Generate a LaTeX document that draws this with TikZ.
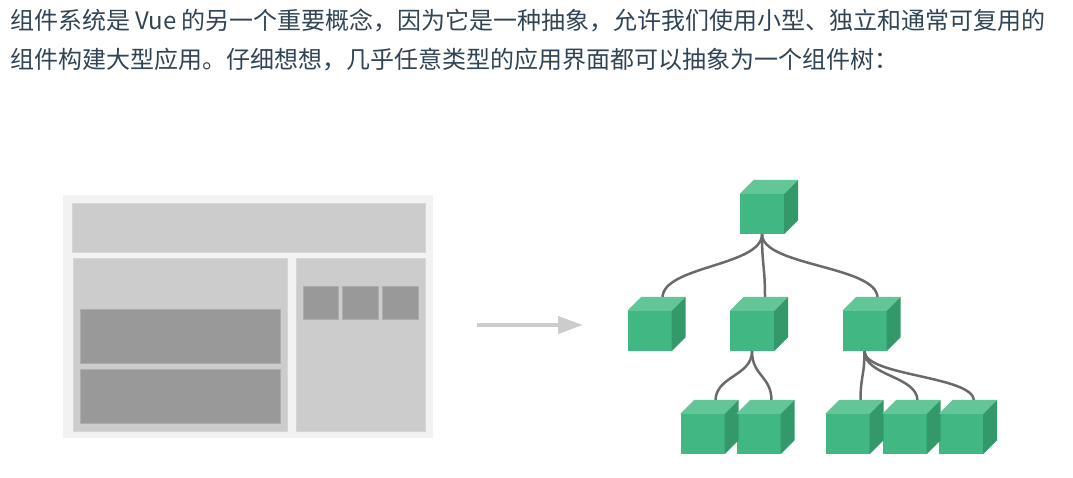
\documentclass[tikz,border=0pt]{standalone}
\usepackage{fontspec}
\newfontfamily\cjk{Noto Sans CJK SC}
\usetikzlibrary{calc,arrows.meta,backgrounds}
\definecolor{textc}{HTML}{304455}
\definecolor{vuegreen}{HTML}{41B883}
\definecolor{cubetopc}{HTML}{62C698}
\definecolor{cubesidec}{HTML}{33996B}
\definecolor{wirelight}{HTML}{F2F2F2}
\definecolor{wiremid}{HTML}{CCCCCC}
\definecolor{wiredark}{HTML}{999999}
\definecolor{linkc}{HTML}{6A6A6A}
\tikzset{
  cube/.style={rectangle,fill=vuegreen,inner sep=0pt,minimum width=44pt,minimum height=40pt},
  link/.style={draw=linkc,line width=2.5pt},
  textline/.style={anchor=base west,inner sep=0pt,text=textc,font=\cjk\fontsize{24}{40}\selectfont},
}

\begin{document}
\begin{tikzpicture}[x=1pt,y=-1pt]
\useasboundingbox (0,0) rectangle (1073,477);
\node[textline] (line1) at (10,29) {组件系统是 Vue 的另一个重要概念，因为它是一种抽象，允许我们使用小型、独立和通常可复用的};
\node[textline] (line2) at (10,68) {组件构建大型应用。仔细想想，几乎任意类型的应用界面都可以抽象为一个组件树：};

\fill[wirelight] (63,195) rectangle (433,438);
\filldraw[fill=wiremid,draw=wiremid!80!white,line width=0.8pt] (72,203) rectangle (425,252);
\filldraw[fill=wiremid,draw=wiremid!80!white,line width=0.8pt] (73,258) rectangle (287,431);
\filldraw[fill=wiremid,draw=wiremid!80!white,line width=0.8pt] (296,258) rectangle (425,431);
\filldraw[fill=wiredark,draw=wiredark!80!white,line width=0.8pt] (80,309) rectangle (280,363);
\filldraw[fill=wiredark,draw=wiredark!80!white,line width=0.8pt] (80,369) rectangle (280,423);
\filldraw[fill=wiredark,draw=wiredark!80!white,line width=0.8pt] (303,286) rectangle (338,319);
\filldraw[fill=wiredark,draw=wiredark!80!white,line width=0.8pt] (342,286) rectangle (378,319);
\filldraw[fill=wiredark,draw=wiredark!80!white,line width=0.8pt] (382,286) rectangle (418,319);

\coordinate (arrowstart) at (477,325);
\coordinate (arrowend) at (583,325);
\draw[wiremid,line width=4pt,-{Triangle[length=25pt,width=17pt]}] (arrowstart) -- (arrowend);

\node[cube] (root) at (762,214) {};
\node[cube] (left) at (649.5,331) {};
\node[cube] (mid) at (752,331) {};
\node[cube] (right) at (864.5,331) {};
\node[cube] (mid1) at (702.5,434) {};
\node[cube] (mid2) at (758.5,434) {};
\node[cube] (right1) at (847.5,434) {};
\node[cube] (right2) at (904.5,434) {};
\node[cube] (right3) at (961,434) {};
\foreach \n in {root,left,mid,right,mid1,mid2,right1,right2,right3}{
  \fill[cubetopc] (\n.north west) -- (\n.north east) -- ++(14,-14) -- ($(\n.north west)+(14,-14)$) -- cycle;
  \fill[cubesidec] (\n.north east) -- (\n.south east) -- ++(14,-14) -- ($(\n.north east)+(14,-14)$) -- cycle;
}

\begin{scope}[on background layer]
\draw[link] (root.south) .. controls +(0,32) and +(0,-32) .. ($(left.north)+(13,-13)$);
\draw[link] (root.south) .. controls +(0,32) and +(0,-32) .. ($(mid.north)+(13,-13)$);
\draw[link] (root.south) .. controls +(0,32) and +(0,-32) .. ($(right.north)+(13,-13)$);
\draw[link] (mid.south) .. controls +(0,25) and +(0,-25) .. ($(mid1.north)+(13,-13)$);
\draw[link] (mid.south) .. controls +(0,25) and +(0,-25) .. ($(mid2.north)+(13,-13)$);
\draw[link] (right.south) .. controls +(0,25) and +(0,-25) .. ($(right1.north)+(13,-13)$);
\draw[link] (right.south) .. controls +(0,25) and +(0,-25) .. ($(right2.north)+(13,-13)$);
\draw[link] (right.south) .. controls +(0,25) and +(0,-25) .. ($(right3.north)+(13,-13)$);
\end{scope}
\end{tikzpicture}
\end{document}
